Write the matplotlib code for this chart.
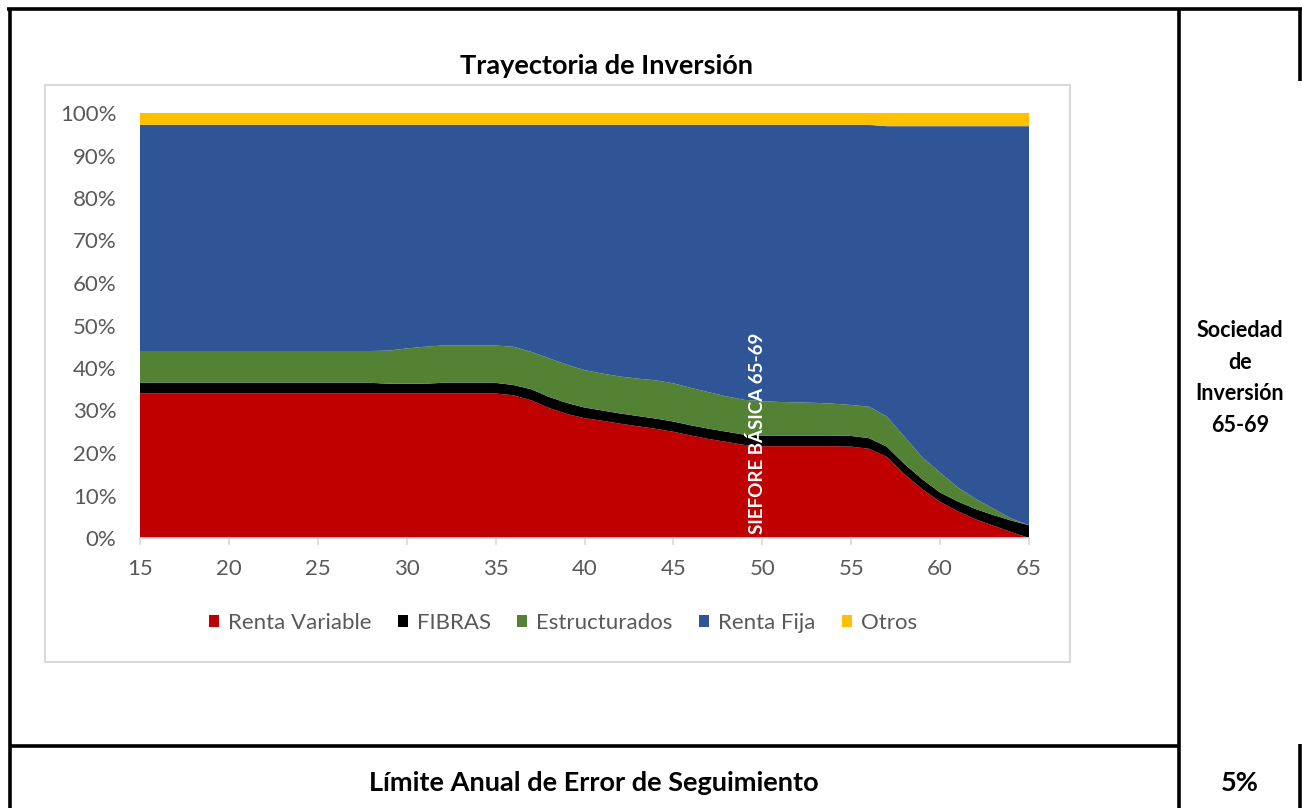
import matplotlib.pyplot as plt
from matplotlib.patches import Rectangle
from matplotlib.lines import Line2D

plt.rcParams['font.family'] = ['Lato', 'DejaVu Sans']

# edades (eje x) y composicion de la cartera en %
edades = list(range(15, 66))
renta_variable = [34.0, 34.0, 34.0, 34.0, 34.0, 34.0, 34.0, 34.0, 34.0, 34.0,
                  34.0, 34.0, 34.0, 34.0, 34.0, 34.0, 34.0, 34.0, 34.0, 34.0,
                  34.0, 33.6, 32.4, 30.6, 29.2, 28.2, 27.6, 26.9, 26.3, 25.7,
                  25.0, 24.1, 23.3, 22.6, 21.9, 21.6, 21.6, 21.6, 21.6, 21.6,
                  21.5, 21.0, 19.1, 15.0, 11.5, 8.5, 6.3, 4.4, 2.9, 1.4, 0.0]
fibras = [2.5, 2.5, 2.5, 2.5, 2.5, 2.5, 2.5, 2.5, 2.5, 2.5,
          2.5, 2.5, 2.5, 2.5, 2.3, 2.3, 2.3, 2.5, 2.5, 2.5,
          2.5, 2.4, 2.6, 2.6, 2.6, 2.5, 2.4, 2.4, 2.4, 2.4,
          2.4, 2.4, 2.4, 2.4, 2.4, 2.5, 2.5, 2.5, 2.5, 2.5,
          2.5, 2.5, 2.4, 2.4, 2.3, 2.2, 2.3, 2.4, 2.5, 2.7, 3.0]
estructurados = [7.5, 7.5, 7.5, 7.5, 7.5, 7.5, 7.5, 7.5, 7.5, 7.5,
                 7.5, 7.5, 7.5, 7.5, 7.8, 8.3, 8.7, 8.8, 8.8, 8.8,
                 8.8, 9.0, 8.8, 9.1, 9.0, 8.8, 8.7, 8.7, 8.8, 9.0,
                 9.0, 8.8, 8.6, 8.3, 8.2, 8.1, 7.9, 7.8, 7.7, 7.5,
                 7.3, 7.4, 7.1, 6.4, 5.2, 4.7, 3.3, 2.4, 1.5, 0.5, 0.0]
renta_fija = [53.2, 53.2, 53.2, 53.2, 53.2, 53.2, 53.2, 53.2, 53.2, 53.2,
              53.2, 53.2, 53.2, 53.2, 53.1, 52.6, 52.2, 51.9, 51.9, 51.9,
              51.9, 52.2, 53.4, 54.9, 56.4, 57.7, 58.5, 59.2, 59.7, 60.1,
              60.8, 61.9, 62.9, 63.9, 64.7, 65.0, 65.2, 65.3, 65.4, 65.6,
              65.9, 66.3, 68.3, 73.1, 77.9, 81.5, 85.0, 87.7, 90.0, 92.3, 93.9]
otros = [2.8, 2.8, 2.8, 2.8, 2.8, 2.8, 2.8, 2.8, 2.8, 2.8,
         2.8, 2.8, 2.8, 2.8, 2.8, 2.8, 2.8, 2.8, 2.8, 2.8,
         2.8, 2.8, 2.8, 2.8, 2.8, 2.8, 2.8, 2.8, 2.8, 2.8,
         2.8, 2.8, 2.8, 2.8, 2.8, 2.8, 2.8, 2.8, 2.8, 2.8,
         2.8, 2.8, 3.1, 3.1, 3.1, 3.1, 3.1, 3.1, 3.1, 3.1, 3.1]

series = ['Renta Variable', 'FIBRAS', 'Estructurados', 'Renta Fija', 'Otros']
colores = ['#C00000', '#000000', '#548235', '#2F5597', '#FFC000']
x_ticks = [15, 20, 25, 30, 35, 40, 45, 50, 55, 60, 65]
y_ticks = [0, 10, 20, 30, 40, 50, 60, 70, 80, 90, 100]

W, H = 1302, 808
fig = plt.figure(figsize=(W / 100, H / 100), dpi=100)

# capa de fondo en pixeles para el marco de la tabla
bg = fig.add_axes([0, 0, 1, 1], zorder=0)
bg.set_xlim(0, W)
bg.set_ylim(H, 0)
bg.axis('off')
bg.add_patch(Rectangle((45, 85), 1025, 577, fill=False, ec='#D9D9D9', lw=1.5))
lw = 2.6
for xs, ys in [([7, W], [9, 9]), ([10, 10], [9, H]), ([1179, 1179], [9, H]),
               ([1300, 1300], [9, 81]), ([10, 1179], [746, 746]),
               ([1300, 1300], [744, H])]:
    bg.add_line(Line2D(xs, ys, color='black', lw=lw, solid_capstyle='butt'))
bg.text(606, 66, 'Trayectoria de Inversión', ha='center', va='center',
        fontsize=19.5, fontweight='bold')
bg.text(1240, 378, 'Sociedad\nde\nInversión\n65-69', ha='center', va='center',
        fontsize=15.5, fontweight='bold', linespacing=1.62)
bg.text(594, 783, 'Límite Anual de Error de Seguimiento', ha='center',
        va='center', fontsize=19.5, fontweight='bold')
bg.text(1240, 783, '5%', ha='center', va='center', fontsize=19.5,
        fontweight='bold')

ax = fig.add_axes([140 / W, (H - 538) / H, 889 / W, 425 / H], zorder=1)
ax.stackplot(edades, renta_variable, fibras, estructurados, renta_fija, otros,
             colors=colores, labels=series, lw=0)
ax.set_xlim(15, 65)
ax.set_ylim(0, 100)
ax.set_xticks(x_ticks)
ax.set_yticks(y_ticks)
ax.set_yticklabels([f'{v}%' for v in y_ticks])
for s in ['top', 'right', 'left']:
    ax.spines[s].set_visible(False)
ax.spines['bottom'].set_color('#D9D9D9')
ax.spines['bottom'].set_linewidth(1.2)
ax.tick_params(axis='y', length=0, pad=17, labelsize=16, labelcolor='#595959')
ax.tick_params(axis='x', length=5, color='#D9D9D9', width=1.2, pad=10,
               labelsize=16, labelcolor='#595959')

ax.text(49.7, 1, 'SIEFORE BÁSICA 65-69', rotation=90, ha='center', va='bottom',
        color='white', fontsize=13.5, fontweight='bold')

fig.legend(loc='center', bbox_to_anchor=(563 / W, (H - 623) / H), ncol=5,
           frameon=False, fontsize=16, handlelength=0.45, handleheight=0.45,
           handletextpad=0.4, columnspacing=1.2, labelcolor='#595959')

fig.savefig('out.png', dpi=100)
